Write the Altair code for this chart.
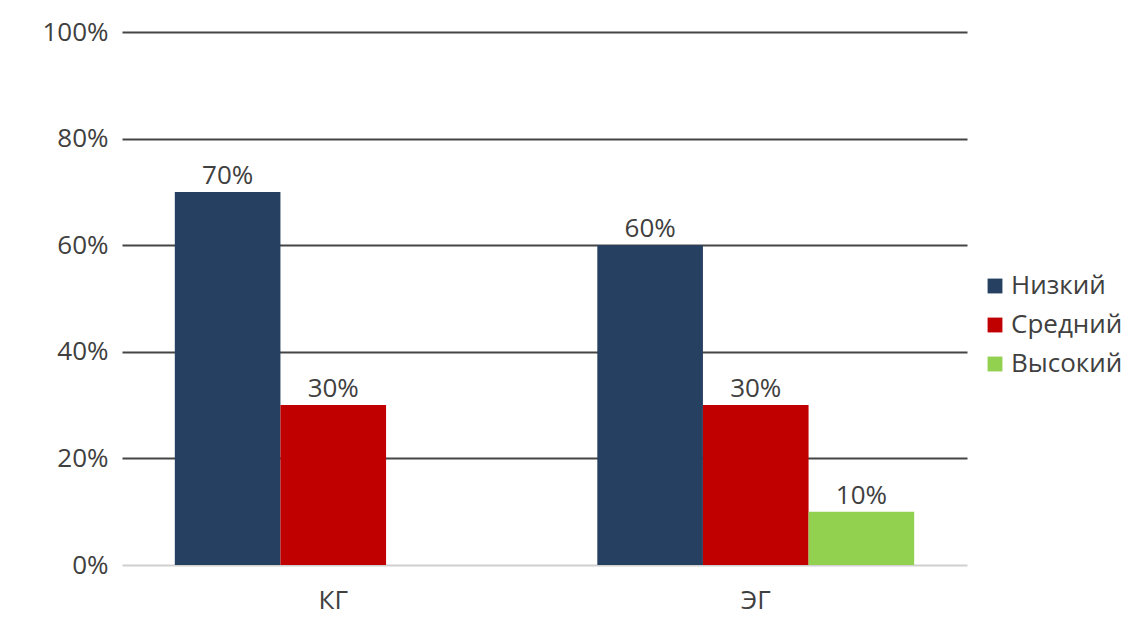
import altair as alt
import pandas as pd

groups = ["КГ", "КГ", "КГ", "ЭГ", "ЭГ", "ЭГ"]
levels = ["Низкий", "Средний", "Высокий", "Низкий", "Средний", "Высокий"]
values = [0.70, 0.30, None, 0.60, 0.30, 0.10]
level_order = ["Низкий", "Средний", "Высокий"]
level_colors = ["#254061", "#c00000", "#92d050"]

df = pd.DataFrame({"group": groups, "level": levels, "value": values}).dropna()

FONT = "Open Sans"
TXT = "#404040"
FS = 26

base = alt.Chart(df).encode(
    x=alt.X("group:N", sort=["КГ", "ЭГ"], title=None,
            scale=alt.Scale(paddingInner=0.25, paddingOuter=0.125),
            axis=alt.Axis(labelAngle=0, labelFontSize=FS, labelFont=FONT, labelColor=TXT,
                          ticks=False, domain=False, labelPadding=22)),
    xOffset=alt.XOffset("level:N", sort=level_order, scale=alt.Scale(domain=level_order, paddingInner=0, paddingOuter=0)),
)

bars = base.mark_bar().encode(
    y=alt.Y("value:Q", title=None,
            scale=alt.Scale(domain=[0, 1]),
            axis=alt.Axis(format=".0%", values=[0, 0.2, 0.4, 0.6, 0.8, 1.0],
                          labelFontSize=FS, labelFont=FONT, labelColor=TXT,
                          ticks=False, domain=False, labelPadding=14,
                          gridWidth=2,
                          gridColor=alt.condition("datum.value === 0", alt.value("#d0d0d0"), alt.value("#454545")))),
    color=alt.Color("level:N", sort=level_order,
                    scale=alt.Scale(domain=level_order, range=level_colors),
                    legend=alt.Legend(title=None, orient="none", legendX=860, legendY=241,
                                      labelFontSize=FS, labelFont=FONT, labelColor=TXT,
                                      symbolType="square", symbolSize=220, symbolStrokeWidth=0,
                                      rowPadding=13, labelOffset=3)),
)

labels = base.mark_text(baseline="bottom", dy=-3, fontSize=FS, font=FONT, color=TXT).encode(
    y=alt.Y("value:Q"),
    text=alt.Text("value:Q", format=".0%"),
)

chart = (bars + labels).properties(
    width=845, height=533,
    padding={"left": 114, "top": 24, "right": 169, "bottom": 66},
    autosize=alt.AutoSizeParams(type="none"),
    background="white",
).configure_view(stroke=None)

chart.save("out.html", embed_options={"renderer": "svg", "actions": False})
